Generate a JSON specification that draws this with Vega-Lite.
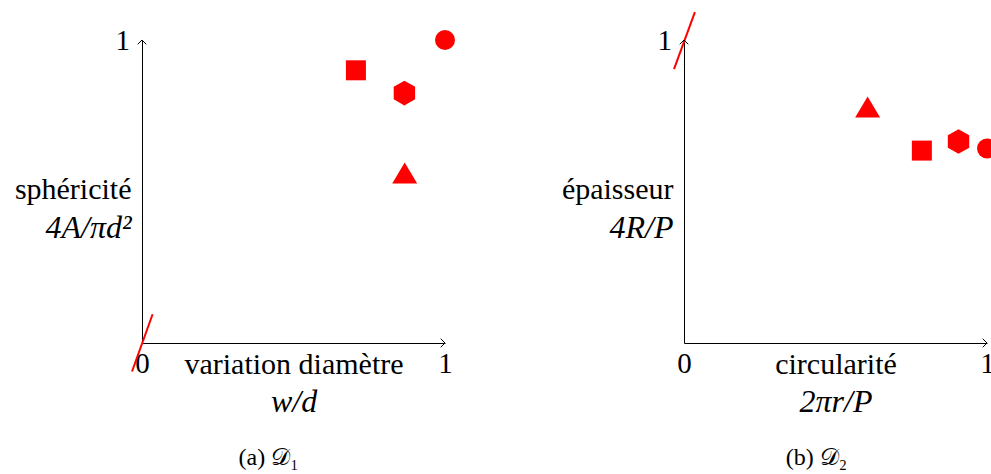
{
  "$schema": "https://vega.github.io/schema/vega-lite/v6.json",
  "padding": {"left": 14, "top": 8, "right": 0, "bottom": 2},
  "background": "white",
  "bounds": "flush",
  "spacing": 239,
  "config": {
    "view": {"stroke": null},
    "font": "Liberation Serif",
    "axis": {
      "grid": false,
      "ticks": false,
      "tickSize": 0,
      "domainColor": "black",
      "domainWidth": 1,
      "labelFont": "Liberation Serif",
      "labelFontSize": 29,
      "labelColor": "black",
      "labelFlush": false,
      "labelOverlap": false,
      "titleFont": "Liberation Serif",
      "titleFontSize": 30,
      "titleFontWeight": "normal",
      "titleColor": "black"
    }
  },
  "datasets": {
    "points": [
      {"panneau": "a", "forme": "cercle", "x": 1.0, "y": 1.0},
      {"panneau": "a", "forme": "carré", "x": 0.706, "y": 0.9},
      {"panneau": "a", "forme": "hexagone", "x": 0.866, "y": 0.825},
      {"panneau": "a", "forme": "triangle", "x": 0.867, "y": 0.561},
      {"panneau": "b", "forme": "triangle", "x": 0.606, "y": 0.779},
      {"panneau": "b", "forme": "carré", "x": 0.785, "y": 0.635},
      {"panneau": "b", "forme": "hexagone", "x": 0.906, "y": 0.665},
      {"panneau": "b", "forme": "cercle", "x": 1.0, "y": 0.642}
    ],
    "ligne": [
      {"panneau": "a", "x": -0.033, "y": -0.094},
      {"panneau": "a", "x": 0.035, "y": 0.095},
      {"panneau": "b", "x": -0.033, "y": 0.904},
      {"panneau": "b", "x": 0.036, "y": 1.092}
    ],
    "fleches": [
      {"sens": "droite", "x": 1, "y": 0},
      {"sens": "haut", "x": 0, "y": 1}
    ]
  },
  "hconcat": [
    {
      "width": 303,
      "height": 303,
      "title": {"text": "(a) 𝒟₁", "orient": "bottom", "frame": "group", "anchor": "middle", "dx": -25, "offset": 29, "font": "Liberation Serif, DejaVu Serif, DejaVu Sans", "fontSize": 24, "fontWeight": "normal", "color": "black"},
      "layer": [
        {
          "data": {"name": "points"},
          "transform": [{"filter": "datum.panneau === 'a'"}],
          "mark": {"type": "point", "filled": true, "size": 400, "color": "#ff0000", "opacity": 1, "strokeWidth": 0},
          "encoding": {
            "x": {"field": "x", "type": "quantitative", "scale": {"domain": [0, 1]},
              "axis": {"values": [0, 1], "format": "d", "labelPadding": 29.7, "labelBaseline": "alphabetic", "title": "variation diamètre", "titleX": 151.5, "titleY": 30.7, "titleAlign": "center", "titleBaseline": "alphabetic"}},
            "y": {"field": "y", "type": "quantitative", "scale": {"domain": [0, 1]},
              "axis": {"values": [1], "format": "d", "labelPadding": 12.6, "labelBaseline": "middle", "title": "sphéricité", "titleAngle": 0, "titleX": -11, "titleY": 158.7, "titleAlign": "right", "titleBaseline": "alphabetic"}},
            "shape": {"field": "forme", "type": "nominal", "legend": null,
              "scale": {"domain": ["cercle", "carré", "hexagone", "triangle"], "range": ["circle", "square", "M0,-1.235L1.07,-0.6175L1.07,0.6175L0,1.235L-1.07,0.6175L-1.07,-0.6175Z", "M0,-1.05L1.25,1.05L-1.25,1.05Z"]}}
          }
        },
        {
          "data": {"name": "ligne"},
          "transform": [{"filter": "datum.panneau === 'a'"}],
          "mark": {"type": "line", "color": "#ff0000", "strokeWidth": 2},
          "encoding": {
            "x": {"field": "x", "type": "quantitative", "scale": {"domain": [0, 1]},
              "axis": {"orient": "bottom", "domain": false, "labels": false, "title": "w/d", "titleFontSize": 32, "titleFontStyle": "italic", "titleX": 151.5, "titleY": 68.4, "titleAlign": "center", "titleBaseline": "alphabetic"}},
            "y": {"field": "y", "type": "quantitative", "scale": {"domain": [0, 1]},
              "axis": {"orient": "left", "domain": false, "labels": false, "title": "4A/πd²", "titleFontSize": 32, "titleFontStyle": "italic", "titleAngle": 0, "titleX": -11, "titleY": 197.5, "titleAlign": "right", "titleBaseline": "alphabetic"}},
            "order": {"field": "x", "type": "quantitative"}
          }
        },
        {
          "data": {"name": "fleches"},
          "mark": {"type": "point", "filled": false, "stroke": "black", "strokeWidth": 1, "size": 74, "opacity": 1},
          "encoding": {
            "x": {"field": "x", "type": "quantitative", "scale": {"domain": [0, 1]}, "axis": null},
            "y": {"field": "y", "type": "quantitative", "scale": {"domain": [0, 1]}, "axis": null},
            "shape": {"field": "sens", "type": "nominal", "legend": null,
              "scale": {"domain": ["droite", "haut"], "range": ["M-1,-1L0,0L-1,1", "M-1,1L0,0L1,1"]}}
          }
        }
      ],
      "resolve": {"scale": {"x": "independent", "y": "independent", "shape": "independent"}}
    },
    {
      "width": 303,
      "height": 303,
      "title": {"text": "(b) 𝒟₂", "orient": "bottom", "frame": "group", "anchor": "middle", "dx": -19, "offset": 29, "font": "Liberation Serif, DejaVu Serif, DejaVu Sans", "fontSize": 24, "fontWeight": "normal", "color": "black"},
      "layer": [
        {
          "data": {"name": "points"},
          "transform": [{"filter": "datum.panneau === 'b'"}],
          "mark": {"type": "point", "filled": true, "size": 400, "color": "#ff0000", "opacity": 1, "strokeWidth": 0},
          "encoding": {
            "x": {"field": "x", "type": "quantitative", "scale": {"domain": [0, 1]},
              "axis": {"values": [0, 1], "format": "d", "labelPadding": 29.7, "labelBaseline": "alphabetic", "title": "circularité", "titleX": 151.5, "titleY": 30.7, "titleAlign": "center", "titleBaseline": "alphabetic"}},
            "y": {"field": "y", "type": "quantitative", "scale": {"domain": [0, 1]},
              "axis": {"values": [1], "format": "d", "labelPadding": 12.6, "labelBaseline": "middle", "title": "épaisseur", "titleAngle": 0, "titleX": -11, "titleY": 158.7, "titleAlign": "right", "titleBaseline": "alphabetic"}},
            "shape": {"field": "forme", "type": "nominal", "legend": null,
              "scale": {"domain": ["cercle", "carré", "hexagone", "triangle"], "range": ["circle", "square", "M0,-1.235L1.07,-0.6175L1.07,0.6175L0,1.235L-1.07,0.6175L-1.07,-0.6175Z", "M0,-1.05L1.25,1.05L-1.25,1.05Z"]}}
          }
        },
        {
          "data": {"name": "ligne"},
          "transform": [{"filter": "datum.panneau === 'b'"}],
          "mark": {"type": "line", "color": "#ff0000", "strokeWidth": 2},
          "encoding": {
            "x": {"field": "x", "type": "quantitative", "scale": {"domain": [0, 1]},
              "axis": {"orient": "bottom", "domain": false, "labels": false, "title": "2πr/P", "titleFontSize": 32, "titleFontStyle": "italic", "titleX": 151.5, "titleY": 68.4, "titleAlign": "center", "titleBaseline": "alphabetic"}},
            "y": {"field": "y", "type": "quantitative", "scale": {"domain": [0, 1]},
              "axis": {"orient": "left", "domain": false, "labels": false, "title": "4R/P", "titleFontSize": 32, "titleFontStyle": "italic", "titleAngle": 0, "titleX": -11, "titleY": 197.5, "titleAlign": "right", "titleBaseline": "alphabetic"}},
            "order": {"field": "x", "type": "quantitative"}
          }
        },
        {
          "data": {"name": "fleches"},
          "mark": {"type": "point", "filled": false, "stroke": "black", "strokeWidth": 1, "size": 74, "opacity": 1},
          "encoding": {
            "x": {"field": "x", "type": "quantitative", "scale": {"domain": [0, 1]}, "axis": null},
            "y": {"field": "y", "type": "quantitative", "scale": {"domain": [0, 1]}, "axis": null},
            "shape": {"field": "sens", "type": "nominal", "legend": null,
              "scale": {"domain": ["droite", "haut"], "range": ["M-1,-1L0,0L-1,1", "M-1,1L0,0L1,1"]}}
          }
        }
      ],
      "resolve": {"scale": {"x": "independent", "y": "independent", "shape": "independent"}}
    }
  ]
}
